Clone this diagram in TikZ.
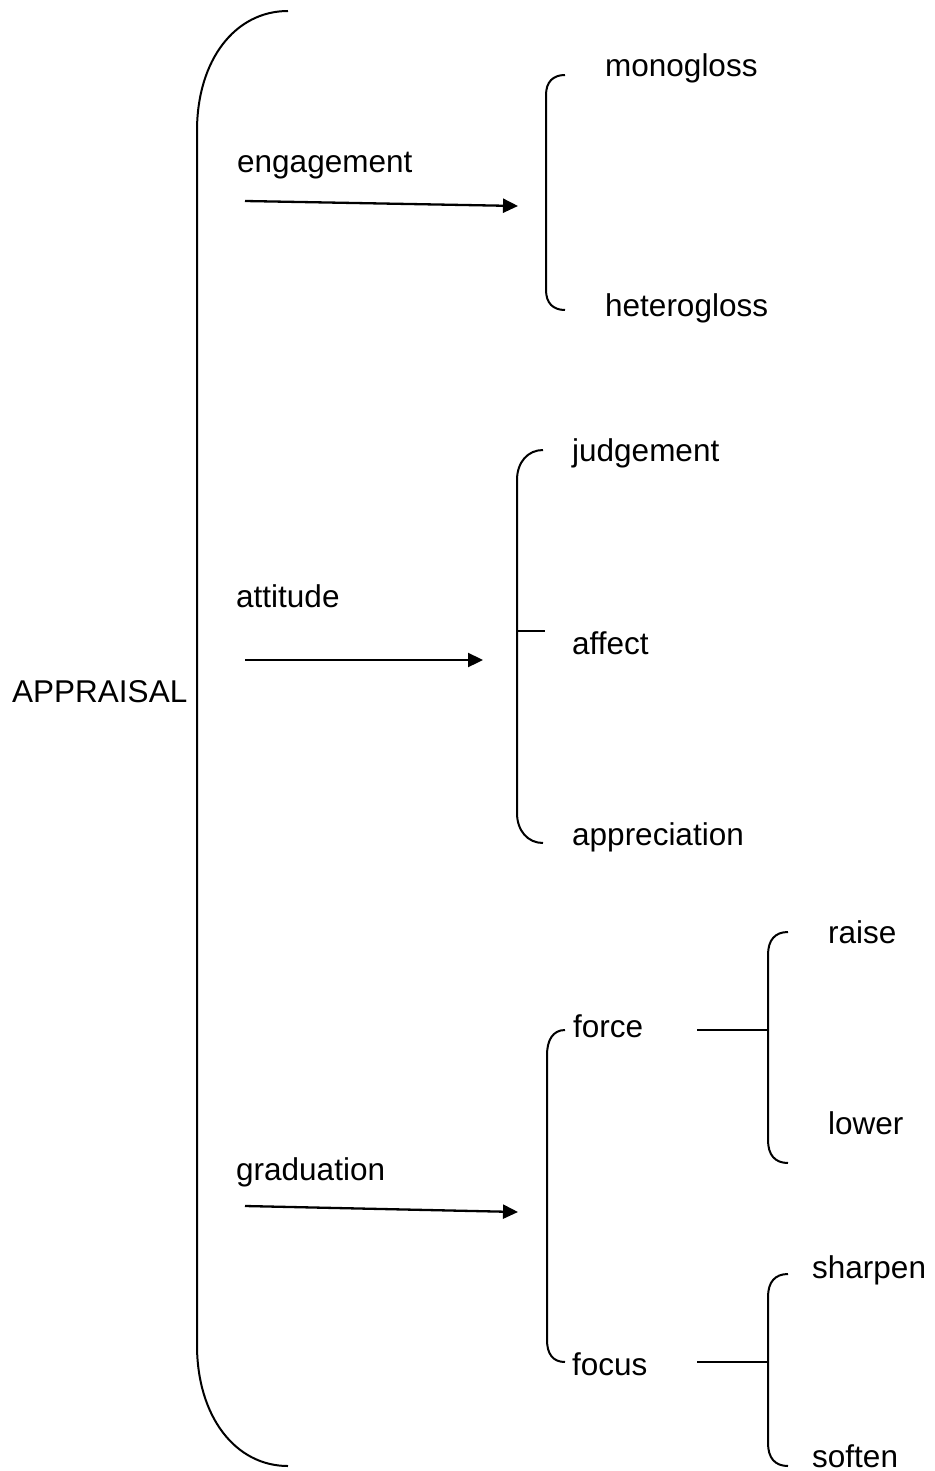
\documentclass[tikz,border=0pt]{standalone}
\usepackage{fontspec}
\setmainfont{Liberation Sans}
\usetikzlibrary{arrows.meta}

\begin{document}
\begin{tikzpicture}[x=1pt,y=-1pt,
  lbl/.style={anchor=base west,inner sep=0pt,font=\fontsize{31.5}{38}\selectfont},
  brace/.style={line width=2pt},
  feed/.style={line width=2.3pt,-{Triangle[length=15pt,width=14pt]}}]
\useasboundingbox (0,0) rectangle (934,1471);

% labels
\node[lbl] (appraisal) at (12,702) {APPRAISAL};
\node[lbl] (engagement) at (237,173) {engagement};
\node[lbl] (attitude) at (236,607) {attitude};
\node[lbl] (graduation) at (236,1180) {graduation};
\node[lbl] (monogloss) at (605,77) {monogloss};
\node[lbl] (heterogloss) at (605,316) {heterogloss};
\node[lbl] (judgement) at (572,461) {judgement};
\node[lbl] (affect) at (572,654) {affect};
\node[lbl] (appreciation) at (572,845) {appreciation};
\node[lbl] (force) at (573,1037) {force};
\node[lbl] (focus) at (572,1375) {focus};
\node[lbl] (raise) at (828,943) {raise};
\node[lbl] (lower) at (828,1134) {lower};
\node[lbl] (sharpen) at (812,1278) {sharpen};
\node[lbl] (soften) at (812,1467) {soften};

% main system bracket
\draw[brace] (288,11) .. controls (235,11) and (197,60) .. (197,131)
  -- (197,1345) .. controls (197,1416) and (235,1466) .. (288,1466);

% entry arrows into the sub-systems
\coordinate (e0) at (245,201); \coordinate (e1) at (518,206);
\coordinate (a0) at (245,660); \coordinate (a1) at (483,660);
\coordinate (g0) at (245,1206); \coordinate (g1) at (518,1212);
\draw[feed] (e0) -- (e1);
\draw[feed] (a0) -- (a1);
\draw[feed] (g0) -- (g1);

% engagement bracket
\draw[brace] (565,75) .. controls (553,75) and (546,82) .. (546,95)
  -- (546,290) .. controls (546,303) and (553,310) .. (565,310);

% attitude bracket with middle tick
\draw[brace] (543,450) .. controls (528,450) and (517,462) .. (517,480)
  -- (517,813) .. controls (517,831) and (528,843) .. (543,843);
\coordinate (at0) at (517,631); \coordinate (at1) at (545,631);
\draw[brace] (at0) -- (at1);

% graduation bracket
\draw[brace] (565,1030) .. controls (553,1030) and (547,1040) .. (547,1055)
  -- (547,1340) .. controls (547,1354) and (553,1362) .. (565,1362);

% force sub-bracket
\coordinate (fo0) at (697,1030); \coordinate (fo1) at (768,1030);
\draw[brace] (fo0) -- (fo1);
\draw[brace] (788,932) .. controls (775,932) and (768,940) .. (768,955)
  -- (768,1140) .. controls (768,1155) and (775,1163) .. (788,1163);

% focus sub-bracket
\coordinate (fc0) at (697,1362); \coordinate (fc1) at (768,1362);
\draw[brace] (fc0) -- (fc1);
\draw[brace] (788,1274) .. controls (775,1274) and (768,1282) .. (768,1297)
  -- (768,1443) .. controls (768,1458) and (775,1466) .. (788,1466);
\end{tikzpicture}
\end{document}
